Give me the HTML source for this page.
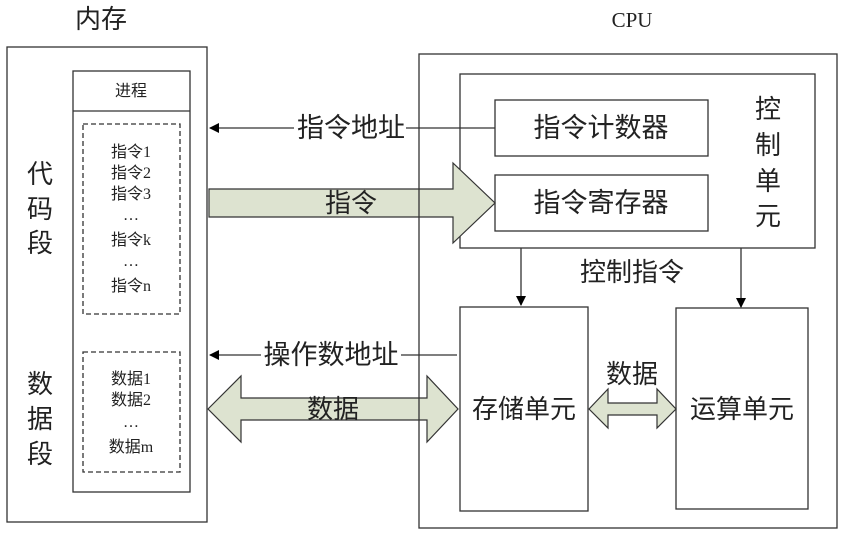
<!DOCTYPE html>
<html><head><meta charset="utf-8"><style>
body{margin:0;background:#fff;}
svg text{font-family:"Liberation Serif","Noto Sans CJK SC","WenQuanYi Zen Hei",sans-serif;fill:#222;}
</style></head><body>
<svg width="843" height="534" viewBox="0 0 843 534" xmlns="http://www.w3.org/2000/svg">
<defs><marker id="a" markerWidth="10" markerHeight="10" refX="9" refY="5" orient="auto" markerUnits="userSpaceOnUse"><path d="M0,0 L10,5 L0,10 z" fill="#000"/></marker></defs>
<g fill="none" stroke="#333" stroke-width="1.3">
<rect x="7" y="47" width="200" height="475"/>
<rect x="73" y="71" width="117" height="421"/>
<line x1="73" y1="111" x2="190" y2="111"/>
<rect x="83" y="124" width="97" height="190" stroke-dasharray="5,3"/>
<rect x="83" y="352" width="97" height="120" stroke-dasharray="5,3"/>
<rect x="460" y="74" width="355" height="174"/>
<rect x="495" y="100" width="213" height="56"/>
<rect x="495" y="175" width="213" height="56"/>
<rect x="460" y="307" width="128" height="204"/>
<rect x="676" y="308" width="132" height="201"/>
<line x1="495" y1="128" x2="210" y2="128" marker-end="url(#a)"/>
<line x1="457" y1="355" x2="210" y2="355" marker-end="url(#a)"/>
<line x1="521" y1="248" x2="521" y2="305" marker-end="url(#a)"/>
<line x1="741" y1="248" x2="741" y2="307" marker-end="url(#a)"/>
</g>
<g fill="#dde3d0" stroke="#333" stroke-width="1.2">
<path d="M209,189 L453,189 L453,163 L495,203 L453,243 L453,217 L209,217 z"/>
<path d="M208,409 L241,376 L241,398 L427,398 L427,376 L458,409 L427,442 L427,420 L241,420 L241,442 z"/>
<path d="M589,409 L608,389 L608,403 L657,403 L657,389 L676,409 L657,428 L657,415 L608,415 L608,428 z"/>
</g>
<rect x="419" y="54" width="418" height="474" fill="none" stroke="#333" stroke-width="1.3"/>
<rect x="294" y="114" width="112" height="28" fill="#fff"/>
<rect x="261" y="341" width="140" height="28" fill="#fff"/>
<g font-size="26">
<text x="101" y="28" text-anchor="middle">内存</text>
<text x="632" y="27" text-anchor="middle" font-size="21">CPU</text>
<text x="351" y="137" text-anchor="middle" font-size="27">指令地址</text>
<text x="331" y="364" text-anchor="middle" font-size="27">操作数地址</text>
<text x="351" y="212" text-anchor="middle">指令</text>
<text x="333" y="418" text-anchor="middle">数据</text>
<text x="601" y="137" text-anchor="middle" font-size="27">指令计数器</text>
<text x="601" y="212" text-anchor="middle" font-size="27">指令寄存器</text>
<text x="632" y="281" text-anchor="middle">控制指令</text>
<text x="632" y="383" text-anchor="middle">数据</text>
<text x="524" y="418" text-anchor="middle">存储单元</text>
<text x="742" y="418" text-anchor="middle">运算单元</text>
<text x="40" y="183" text-anchor="middle">代</text>
<text x="40" y="218" text-anchor="middle">码</text>
<text x="40" y="252" text-anchor="middle">段</text>
<text x="40" y="393" text-anchor="middle">数</text>
<text x="40" y="428" text-anchor="middle">据</text>
<text x="40" y="463" text-anchor="middle">段</text>
<text x="768" y="118" text-anchor="middle">控</text>
<text x="768" y="154" text-anchor="middle">制</text>
<text x="768" y="190" text-anchor="middle">单</text>
<text x="768" y="225" text-anchor="middle">元</text>
</g>
<g font-size="16" text-anchor="middle">
<text x="131" y="96">进程</text>
<text x="131" y="157">指令1</text>
<text x="131" y="178">指令2</text>
<text x="131" y="199">指令3</text>
<text x="131" y="220">…</text>
<text x="131" y="245">指令k</text>
<text x="131" y="266">…</text>
<text x="131" y="291">指令n</text>
<text x="131" y="384">数据1</text>
<text x="131" y="405">数据2</text>
<text x="131" y="427">…</text>
<text x="131" y="452">数据m</text>
</g>
</svg>
</body></html>
